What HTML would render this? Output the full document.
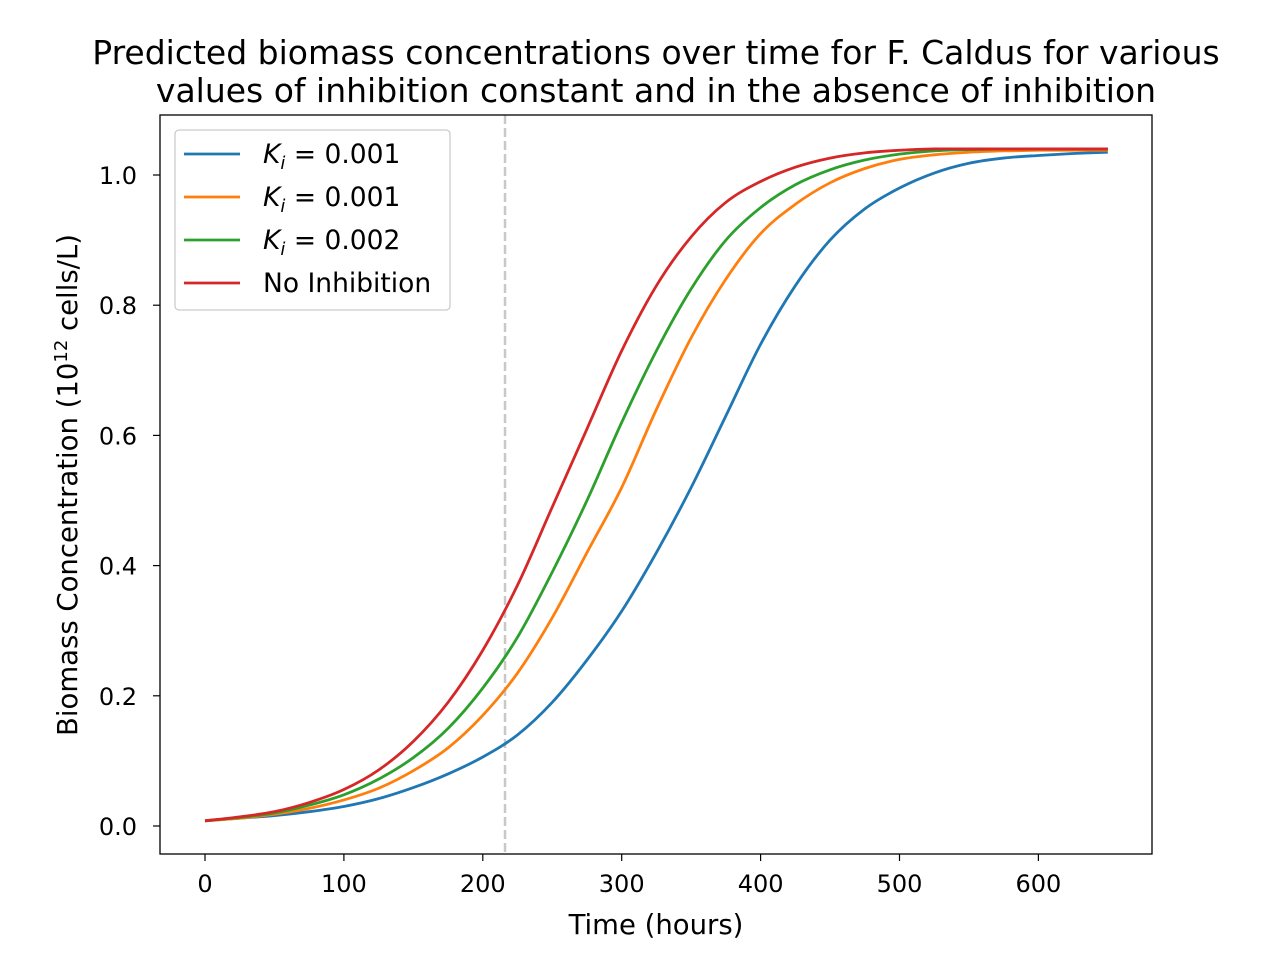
<!DOCTYPE html>
<html><head><meta charset="utf-8"><style>
body{margin:0;background:#fff}
text{font-family:"DejaVu Sans","Liberation Sans",sans-serif;fill:#000}
</style></head><body>
<svg id="chart" width="1280" height="960" xmlns="http://www.w3.org/2000/svg">
<text x="656" y="64" style="font-size:33px" text-anchor="middle">Predicted biomass concentrations over time for F. Caldus for various</text>
<text x="656" y="102" style="font-size:33px" text-anchor="middle">values of inhibition constant and in the absence of inhibition</text>
<g id="grid"></g>
<g id="series"></g>
<rect x="160" y="115" width="992" height="739" fill="none" stroke="#000" stroke-width="1.3"/>
<text x="656" y="934" style="font-size:27.5px" text-anchor="middle">Time (hours)</text>
<text transform="translate(77,485) rotate(-90)" style="font-size:27.5px" text-anchor="middle">Biomass Concentration (10<tspan style="font-size:18px" dy="-10">12</tspan><tspan dy="10"> cells/L)</tspan></text>
<g>
<rect x="175" y="130" width="275" height="180" rx="4" fill="#fff" fill-opacity="0.85" stroke="#ccc" stroke-width="1.3"/>
<g id="legend"></g>
</g>
</svg>
<script>
const times=[0,25,50,75,100,125,150,175,200,225,250,275,300,325,350,375,400,425,450,475,500,525,550,575,600,625,650];
const blue=[0.008,0.012,0.016,0.022,0.03,0.042,0.059,0.08,0.106,0.14,0.19,0.255,0.33,0.42,0.52,0.63,0.74,0.83,0.9,0.948,0.98,1.003,1.018,1.026,1.03,1.033,1.035];
const orange=[0.008,0.012,0.018,0.027,0.04,0.058,0.085,0.12,0.17,0.235,0.32,0.42,0.52,0.64,0.75,0.84,0.91,0.955,0.988,1.01,1.024,1.031,1.035,1.037,1.038,1.038,1.038];
const green=[0.008,0.013,0.02,0.032,0.048,0.072,0.105,0.15,0.212,0.29,0.39,0.5,0.62,0.73,0.825,0.9,0.95,0.985,1.008,1.023,1.032,1.037,1.039,1.04,1.04,1.04,1.04];
const red=[0.008,0.014,0.022,0.036,0.056,0.086,0.13,0.19,0.27,0.37,0.49,0.61,0.73,0.83,0.905,0.958,0.99,1.012,1.026,1.034,1.038,1.04,1.04,1.04,1.04,1.04,1.04];
const xTicks=[0,100,200,300,400,500,600];
const yTicks=[0.0,0.2,0.4,0.6,0.8,1.0];
const vline=216;
const NS="http://www.w3.org/2000/svg";
const xs=t=>205+t*1.389;
const ys=v=>826-v*651;
function mk(tag,attrs,parent){const e=document.createElementNS(NS,tag);for(const k in attrs)e.setAttribute(k,attrs[k]);parent.appendChild(e);return e;}
function smooth(pts){
  let d='M'+pts[0][0]+','+pts[0][1];
  for(let i=0;i<pts.length-1;i++){
    const p0=pts[Math.max(0,i-1)],p1=pts[i],p2=pts[i+1],p3=pts[Math.min(pts.length-1,i+2)];
    const c1x=p1[0]+(p2[0]-p0[0])/6,c1y=p1[1]+(p2[1]-p0[1])/6;
    const c2x=p2[0]-(p3[0]-p1[0])/6,c2y=p2[1]-(p3[1]-p1[1])/6;
    d+=' C'+c1x+','+c1y+' '+c2x+','+c2y+' '+p2[0]+','+p2[1];
  }
  return d;
}
const grid=document.getElementById('grid');
xTicks.forEach(t=>{
  const l=mk('line',{x1:xs(t),x2:xs(t),y1:854,y2:861,stroke:'#000','stroke-width':1.2},grid);
  
  
  const tx=mk('text',{x:xs(t),y:892,style:'font-size:24px','text-anchor':'middle'},grid);tx.textContent=t;
  
  
});
yTicks.forEach(v=>{
  const l=mk('line',{x1:153,x2:160,y1:ys(v),y2:ys(v),stroke:'#000','stroke-width':1.2},grid);
  
  
  const tx=mk('text',{x:137,y:ys(v)+9,style:'font-size:24px','text-anchor':'end'},grid);tx.textContent=v.toFixed(1);
  
  
});
const sg=document.getElementById('series');
const vl=mk('line',{x1:xs(vline),x2:xs(vline),y1:115,y2:854,stroke:'#c8c8c8','stroke-width':2.5,'stroke-dasharray':'9,4'},sg);


const all=[blue,orange,green,red];
const colors=['#1f77b4','#ff7f0e','#2ca02c','#d62728'];
const names=['series-ki-0001-a','series-ki-0001-b','series-ki-0002','series-no-inhibition'];
all.forEach((arr,i)=>{
  const p=mk('path',{d:smooth(arr.map((v,j)=>[xs(times[j]),ys(v)])),fill:'none',stroke:colors[i],'stroke-width':2.8,'stroke-linejoin':'round'},sg);
  
  
});
const lg=document.getElementById('legend');
const labels=["0.001","0.001","0.002",null];
labels.forEach((lab,i)=>{
  const y=154+i*43;
  const l=mk('line',{x1:184,x2:240,y1:y,y2:y,stroke:colors[i],'stroke-width':2.8},lg);
  
  
  const t=mk('text',{x:263,y:y+9,style:'font-size:26.5px'},lg);
  
  
  if(lab){t.innerHTML='<tspan font-style="italic">K</tspan><tspan font-style="italic" style="font-size:18px" dy="6">i</tspan><tspan dy="-6"> = '+lab+'</tspan>';}
  else t.textContent='No Inhibition';
});
</script>
</body></html>
